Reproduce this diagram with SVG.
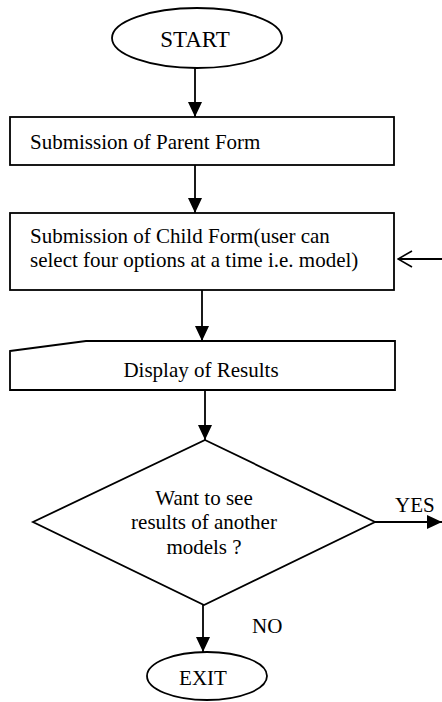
<svg xmlns="http://www.w3.org/2000/svg" width="442" height="702" viewBox="0 0 442 702">
<style>
.s{fill:#fff;stroke:#000;stroke-width:1.8}
.t{font-family:"Liberation Serif","Times New Roman",serif;font-size:21px;fill:#000}
.c{stroke:#000;stroke-width:1.8;fill:none}
</style>
<defs>
<marker id="ah" markerUnits="userSpaceOnUse" markerWidth="15" markerHeight="14" refX="15" refY="7" orient="auto">
<path d="M0,0 L15,7 L0,14 Z" fill="#000"/>
</marker>
<marker id="oh" markerUnits="userSpaceOnUse" markerWidth="16" markerHeight="18" refX="15" refY="9" orient="auto">
<path d="M1,1 L15,9 L1,17" fill="none" stroke="#000" stroke-width="1.6"/>
</marker>
</defs>
<rect width="442" height="702" fill="#fff"/>
<g id="start">
<ellipse class="s" cx="197" cy="38" rx="85" ry="30"/>
<text class="t" x="195" y="47" text-anchor="middle" style="font-size:23px">START</text>
</g>
<g id="parent">
<rect class="s" x="10" y="117" width="384" height="48"/>
<text class="t" x="30" y="149">Submission of Parent Form</text>
</g>
<g id="child">
<rect class="s" x="10" y="213" width="384" height="77"/>
<text class="t" x="30" y="243">Submission of Child Form(user can</text>
<text class="t" x="30" y="267">select four options at a time i.e. model)</text>
</g>
<g id="display">
<path class="s" d="M10,351 L86,341 L395,341 L395,390 L10,390 Z"/>
<text class="t" x="201" y="377" text-anchor="middle">Display of Results</text>
</g>
<g id="decision">
<path class="s" d="M205,440 L375,522 L204,605 L33,522 Z"/>
<text class="t" x="204" y="505" text-anchor="middle">Want to see</text>
<text class="t" x="204" y="529" text-anchor="middle">results of another</text>
<text class="t" x="204" y="554" text-anchor="middle">models ?</text>
</g>
<g id="exit">
<ellipse class="s" cx="207" cy="676" rx="60" ry="24"/>
<text class="t" x="203" y="685" text-anchor="middle">EXIT</text>
</g>
<g id="connectors">
<line class="c" x1="195" y1="68" x2="195" y2="117" marker-end="url(#ah)"/>
<line class="c" x1="195" y1="165" x2="195" y2="213" marker-end="url(#ah)"/>
<line class="c" x1="202" y1="290" x2="202" y2="341" marker-end="url(#ah)"/>
<line class="c" x1="205" y1="390" x2="205" y2="440" marker-end="url(#ah)"/>
<line class="c" x1="375" y1="522" x2="442" y2="522" marker-end="url(#ah)"/>
<line class="c" x1="203" y1="605" x2="203" y2="652" marker-end="url(#ah)"/>
<line class="c" x1="442" y1="259" x2="398" y2="259" marker-end="url(#oh)"/>
<text class="t" x="395" y="512">YES</text>
<text class="t" x="252" y="633">NO</text>
</g>
</svg>
